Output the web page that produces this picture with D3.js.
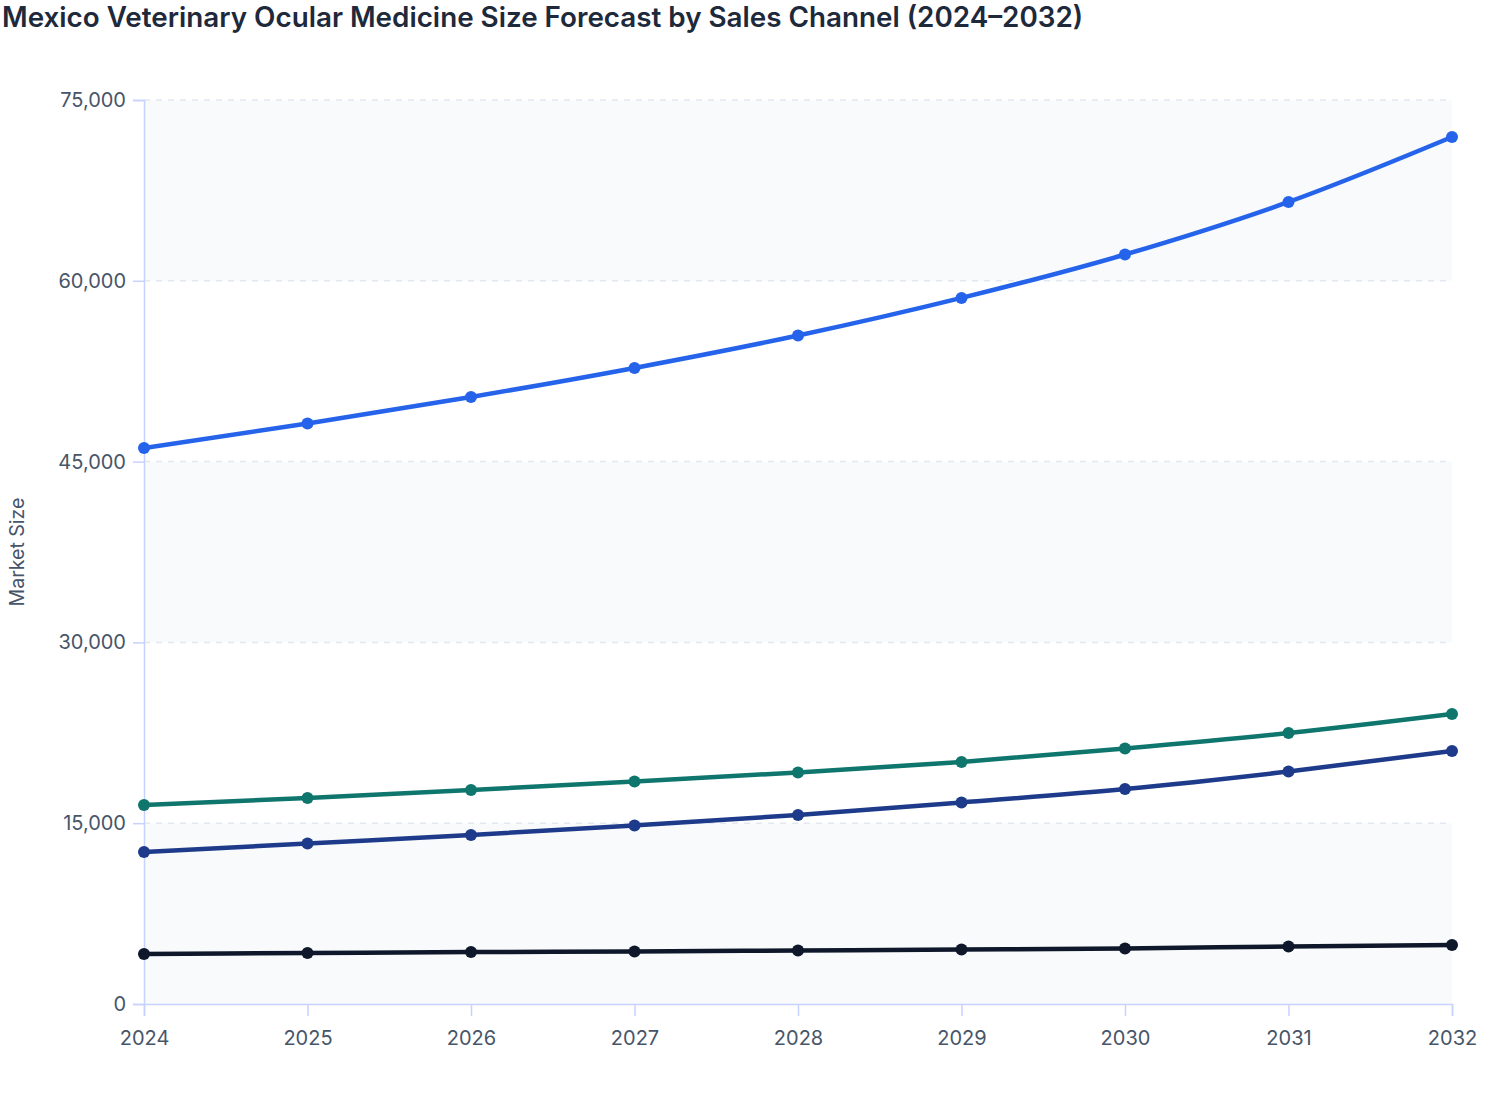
<!DOCTYPE html>
<html>
<head>
<meta charset="utf-8">
<script src="https://cdn.jsdelivr.net/npm/d3@7/dist/d3.min.js"></script>
<style>
  html, body { margin: 0; padding: 0; background: #ffffff; }
  svg { display: block; font-family: Inter, "Noto Sans", sans-serif; }
</style>
</head>
<body>
<svg id="chart" width="1508" height="1120"></svg>
<script>
const years = [2024, 2025, 2026, 2027, 2028, 2029, 2030, 2031, 2032];
const yTicks = [0, 15000, 30000, 45000, 60000, 75000];
const seriesNames = ["Veterinary Hospitals & Clinics", "Retail Pharmacies", "Online Pharmacies", "Others"];
const hospitalsClinics = [46130, 48160, 50360, 52770, 55460, 58580, 62180, 66540, 71930];
const retailPharmacies = [16510, 17090, 17750, 18460, 19210, 20080, 21200, 22480, 24060];
const onlinePharmacies = [12610, 13320, 14020, 14810, 15680, 16720, 17840, 19290, 20990];
const others = [4150, 4230, 4310, 4360, 4440, 4520, 4610, 4770, 4900];
const seriesColors = ["#2563eb", "#0f766e", "#1e3a8a", "#0f172a"];

const seriesValues = [hospitalsClinics, retailPharmacies, onlinePharmacies, others];
const series = seriesNames.map((name, i) => ({
  name, color: seriesColors[i],
  values: years.map((y, j) => ({ year: y, value: seriesValues[i][j] }))
}));

const svg = d3.select("#chart");
const margin = { left: 144, right: 56, top: 100, bottom: 116 };
const W = 1508, H = 1120;
const x = d3.scalePoint().domain(years).range([margin.left, W - margin.right]);
const y = d3.scaleLinear().domain([0, 75000]).range([H - margin.bottom, margin.top]);

// title
svg.append("text")
  .attr("x", 2).attr("y", 27)
  .attr("font-size", 27.8).attr("font-weight", 600)
  .attr("fill", "#1e293b")
  .text("Mexico Veterinary Ocular Medicine Size Forecast by Sales Channel (2024\u20132032)");

// alternating bands
const bands = d3.pairs(yTicks).filter((d, i) => i % 2 === 0);
svg.append("g").selectAll("rect").data(bands).join("rect")
  .attr("x", x(years[0]))
  .attr("width", x(years[years.length - 1]) - x(years[0]))
  .attr("y", d => y(d[1]))
  .attr("height", d => y(d[0]) - y(d[1]))
  .attr("fill", "#f8fafc");

// gridlines
svg.append("g").selectAll("line").data(yTicks.filter(t => t > 0)).join("line")
  .attr("x1", x(years[0])).attr("x2", x(years[years.length - 1]))
  .attr("y1", d => y(d)).attr("y2", d => y(d))
  .attr("stroke", "#e2e8f0").attr("stroke-width", 1.5)
  .attr("stroke-dasharray", "6,6");

// y axis
const yAxis = svg.append("g")
  .attr("transform", `translate(${margin.left},0)`)
  .call(d3.axisLeft(y).tickValues(yTicks).tickFormat(d3.format(",")).tickSize(11).tickPadding(7));
yAxis.select(".domain").attr("stroke", "#c7d2fe").attr("stroke-width", 1.5);
yAxis.selectAll(".tick line").attr("stroke", "#c7d2fe").attr("stroke-width", 1.5);
yAxis.selectAll(".tick text").attr("fill", "#475569").attr("font-size", 20)
  .attr("font-family", "Inter, sans-serif");

// x axis
const xAxis = svg.append("g")
  .attr("transform", `translate(0,${H - margin.bottom})`)
  .call(d3.axisBottom(x).tickSize(12).tickPadding(15));
xAxis.select(".domain").attr("stroke", "#c7d2fe").attr("stroke-width", 1.5);
xAxis.selectAll(".tick line").attr("stroke", "#c7d2fe").attr("stroke-width", 1.5);
xAxis.selectAll(".tick text").attr("fill", "#475569").attr("font-size", 20)
  .attr("font-family", "Inter, sans-serif");

// y label
svg.append("text")
  .attr("transform", `translate(24,${(y(0) + y(75000)) / 2}) rotate(-90)`)
  .attr("text-anchor", "middle")
  .attr("font-size", 19.5).attr("fill", "#475569")
  .text("Market Size");

// lines
const line = d3.line().x(d => x(d.year)).y(d => y(d.value)).curve(d3.curveMonotoneX);
const g = svg.append("g");
series.forEach(s => {
  g.append("path").datum(s.values)
    .attr("d", line)
    .attr("fill", "none")
    .attr("stroke", s.color)
    .attr("stroke-width", 4.5)
    .attr("stroke-linejoin", "round")
    .attr("stroke-linecap", "round");
  g.append("g").selectAll("circle").data(s.values).join("circle")
    .attr("cx", d => x(d.year)).attr("cy", d => y(d.value))
    .attr("r", 6).attr("fill", s.color);
});
</script>
</body>
</html>
